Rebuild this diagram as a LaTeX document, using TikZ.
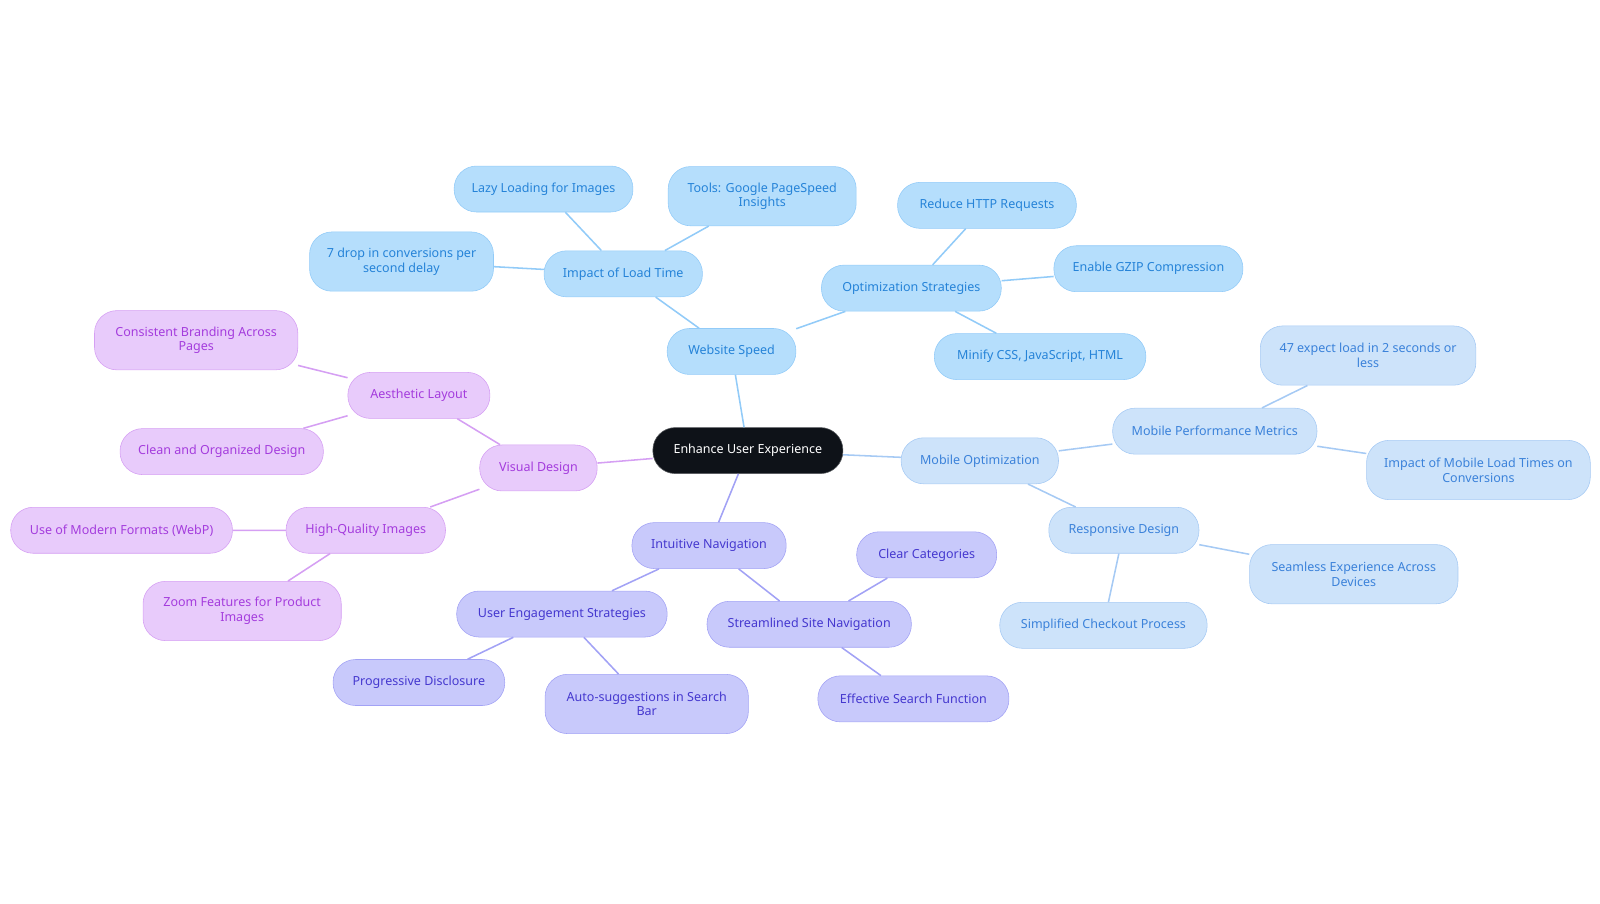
\documentclass[tikz,border=0pt]{standalone}
\usepackage{fontspec}
\setmainfont{Noto Sans}
\usetikzlibrary{positioning}
\newcommand{\pxu}{0.02554cm}
\definecolor{speedfill}{HTML}{B5DEFC}
\definecolor{speedline}{HTML}{92CBF8}
\definecolor{speedtext}{HTML}{2583D8}
\definecolor{mobfill}{HTML}{CDE3FA}
\definecolor{mobline}{HTML}{A6CAF4}
\definecolor{mobtext}{HTML}{3B82DA}
\definecolor{visfill}{HTML}{E8CBFB}
\definecolor{visline}{HTML}{D59FF3}
\definecolor{vistext}{HTML}{A43CDD}
\definecolor{navfill}{HTML}{C8C9FB}
\definecolor{navline}{HTML}{A2A2F5}
\definecolor{navtext}{HTML}{4538CF}
\definecolor{rootfill}{HTML}{0E1218}

\begin{document}
\begin{tikzpicture}[x=\pxu, y=-\pxu,
    every node/.style={font=\fontsize{8.9}{10.4}\selectfont, align=center, inner sep=0pt,
      rounded corners=0.56cm, minimum height=45*\pxu},
    root/.style={fill=rootfill, draw=rootfill!70!white, text=white},
    speed/.style={fill=speedfill, draw=speedline, text=speedtext},
    mob/.style={fill=mobfill, draw=mobline, text=mobtext},
    vis/.style={fill=visfill, draw=visline, text=vistext},
    nav/.style={fill=navfill, draw=navline, text=navtext},
    two/.style={minimum height=58*\pxu},
    wd/.style={minimum width=#1*\pxu},
    speededge/.style={draw=speedline, line width=1.1pt},
    mobedge/.style={draw=mobline, line width=1.1pt},
    visedge/.style={draw=visline, line width=1.1pt},
    navedge/.style={draw=navline, line width=1.1pt}]
\path[use as bounding box] (0,0) rectangle (1566,884);

\node[root, wd=186] (ux) at (732,441) {Enhance User Experience};

% Website Speed
\node[speed, wd=126] (speed) at (716,344) {Website Speed};
\node[speed, wd=155] (load) at (610,268) {Impact of Load Time};
\node[speed, wd=175] (lazy) at (532,185) {Lazy Loading for Images};
\node[speed, wd=184, two] (tools) at (746,192) {Tools: Google PageSpeed\\Insights};
\node[speed, wd=180, two] (drop) at (393,256) {7 drop in conversions per\\second delay};
\node[speed, wd=176] (optim) at (892,282) {Optimization Strategies};
\node[speed, wd=175] (http) at (966,201) {Reduce HTTP Requests};
\node[speed, wd=185] (gzip) at (1124,263) {Enable GZIP Compression};
\node[speed, wd=207] (minify) at (1018,349) {Minify CSS, JavaScript, HTML};

% Mobile Optimization
\node[mob, wd=154] (mobile) at (959,451) {Mobile Optimization};
\node[mob, wd=200] (metrics) at (1189,422) {Mobile Performance Metrics};
\node[mob, wd=211, two] (expect) at (1339,348) {47 expect load in 2 seconds or\\less};
\node[mob, wd=219, two] (mobload) at (1447,460) {Impact of Mobile Load Times on\\Conversions};
\node[mob, wd=147] (resp) at (1100,519) {Responsive Design};
\node[mob, wd=204, two] (seam) at (1325,562) {Seamless Experience Across\\Devices};
\node[mob, wd=203] (checkout) at (1080,612) {Simplified Checkout Process};

% Visual Design
\node[vis, wd=115] (visual) at (527,458) {Visual Design};
\node[vis, wd=139] (layout) at (410,387) {Aesthetic Layout};
\node[vis, wd=199, two] (brand) at (192,333) {Consistent Branding Across\\Pages};
\node[vis, wd=199] (clean) at (217,442) {Clean and Organized Design};
\node[vis, wd=156] (images) at (358,519) {High-Quality Images};
\node[vis, wd=217] (webp) at (119,519) {Use of Modern Formats (WebP)};
\node[vis, wd=194, two] (zoom) at (237,598) {Zoom Features for Product\\Images};

% Intuitive Navigation
\node[nav, wd=151] (navig) at (694,534) {Intuitive Navigation};
\node[nav, wd=206] (engage) at (550,601) {User Engagement Strategies};
\node[nav, wd=168] (progr) at (410,668) {Progressive Disclosure};
\node[nav, wd=199, two] (auto) at (633,689) {Auto-suggestions in Search\\Bar};
\node[nav, wd=200] (stream) at (792,611) {Streamlined Site Navigation};
\node[nav, wd=137] (clear) at (907,543) {Clear Categories};
\node[nav, wd=187] (search) at (894,684) {Effective Search Function};

\path[speededge] (ux) -- (speed) (speed) -- (load) (load) -- (lazy) (load) -- (tools)
  (load) -- (drop) (speed) -- (optim) (optim) -- (http) (optim) -- (gzip) (optim) -- (minify);
\path[mobedge] (ux) -- (mobile) (mobile) -- (metrics) (metrics) -- (expect)
  (metrics) -- (mobload) (mobile) -- (resp) (resp) -- (seam) (resp) -- (checkout);
\path[visedge] (ux) -- (visual) (visual) -- (layout) (layout) -- (brand) (layout) -- (clean)
  (visual) -- (images) (images) -- (webp) (images) -- (zoom);
\path[navedge] (ux) -- (navig) (navig) -- (engage) (engage) -- (progr) (engage) -- (auto)
  (navig) -- (stream) (stream) -- (clear) (stream) -- (search);

\end{tikzpicture}
\end{document}
